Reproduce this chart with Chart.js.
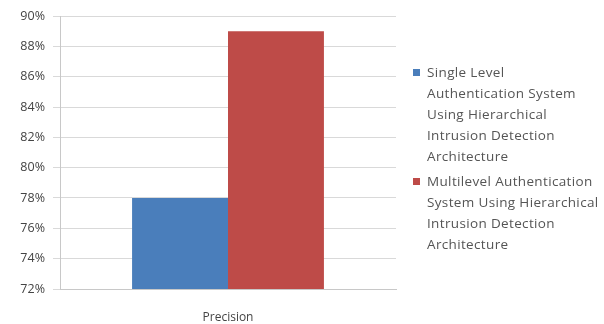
<!DOCTYPE html>
<html lang="en">
  <head>
    <meta charset="utf-8">
    <title>Precision</title>
    <script src="https://cdn.jsdelivr.net/npm/chart.js@4.4.0/dist/chart.umd.min.js"></script>
    <style>
      html, body { margin: 0; padding: 0; background: #fff; }
      #wrap { position: relative; width: 604px; height: 324px; }
      #legend {
        position: absolute; left: 413px; top: 62px;
        font-family: "Open Sans", sans-serif; font-size: 13.5px;
        letter-spacing: 0.35px;
        color: #555; line-height: 21px;
      }
      .item { position: relative; padding-left: 14px; margin-bottom: 4px; }
      .box { position: absolute; left: 0; top: 7px; width: 7px; height: 7px; }
    </style>
  </head>
  <body>
    <div id="wrap">
      <canvas id="precisionChart" width="604" height="324"></canvas>
      <div id="legend"></div>
    </div>
  <script>
  // categories and values (fractions)
  var categories = ["Precision"];
  var singleLevel = [0.78];
  var multiLevel = [0.89];
  var yTicks = [0.72, 0.74, 0.76, 0.78, 0.80, 0.82, 0.84, 0.86, 0.88, 0.90];

  // legend text, one entry per series, already split into lines
  var seriesNames = [
    ["Single Level", "Authentication System", "Using Hierarchical", "Intrusion Detection", "Architecture"],
    ["Multilevel Authentication", "System Using Hierarchical", "Intrusion Detection", "Architecture"]
  ];
  var seriesColors = ["#4a7ebb", "#be4b48"];

  var ctx = document.getElementById("precisionChart");
  var chart = new Chart(ctx, {
    type: "bar",
    data: {
      labels: categories,
      datasets: [{
        label: seriesNames[0].join(" "),
        data: singleLevel,
        backgroundColor: seriesColors[0]
      }, {
        label: seriesNames[1].join(" "),
        data: multiLevel,
        backgroundColor: seriesColors[1]
      }]
    },
    options: {
      responsive: false,
      animation: false,
      layout: { padding: { top: 16, right: 208, bottom: 0, left: 0 } },
      plugins: {
        legend: { display: false },
        tooltip: { enabled: false }
      },
      datasets: {
        bar: { categoryPercentage: 0.571, barPercentage: 1.0 }
      },
      scales: {
        x: {
          grid: { display: false },
          border: { color: "#c8c8c8" },
          ticks: {
            color: "#444",
            font: { family: "Open Sans", size: 12 },
            padding: 13
          },
          afterFit: function(s) { s.height = 35; }
        },
        y: {
          min: 0.72,
          max: 0.90,
          afterBuildTicks: function(s) {
            s.ticks = yTicks.map(function(v) { return { value: v }; });
          },
          grid: { color: "#d9d9d9", tickLength: 7 },
          border: { color: "#c8c8c8" },
          ticks: {
            color: "#444",
            font: { family: "Open Sans", size: 12.5 },
            padding: 8,
            callback: function(v) { return Math.round(v * 100) + "%"; }
          },
          afterFit: function(s) { s.width = 60; }
        }
      }
    }
  });

  // html legend built from the datasets
  var legend = document.getElementById("legend");
  chart.data.datasets.forEach(function(ds, i) {
    var item = document.createElement("div");
    item.className = "item";
    var box = document.createElement("span");
    box.className = "box";
    box.style.background = ds.backgroundColor;
    item.appendChild(box);
    item.insertAdjacentHTML("beforeend", seriesNames[i].join("<br>"));
    legend.appendChild(item);
  });
  </script>
  </body>
</html>
